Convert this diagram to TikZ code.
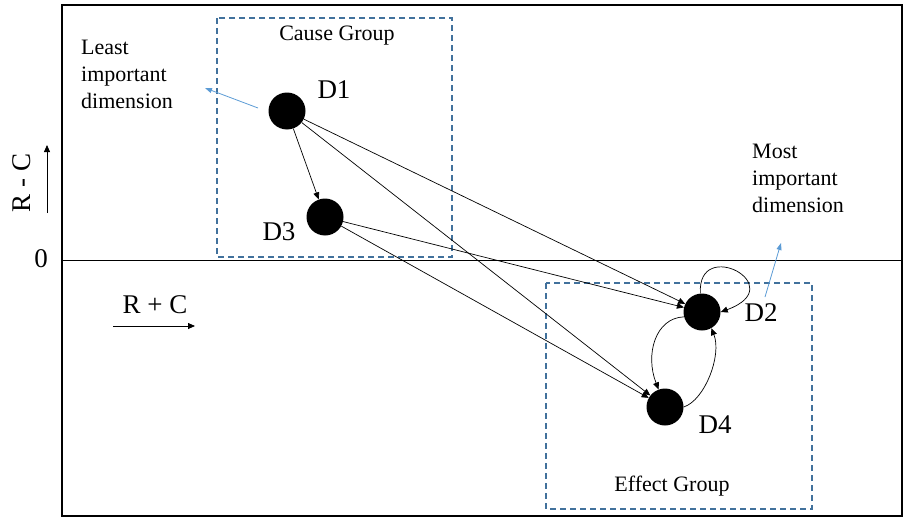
\documentclass[tikz,border=0pt]{standalone}
\usepackage{fontspec}
\setmainfont{Liberation Serif}
\usetikzlibrary{arrows.meta}
\definecolor{grpblue}{HTML}{41719C}
\definecolor{lightblue}{HTML}{5B9BD5}
\begin{document}
\begin{tikzpicture}[x=1pt,y=-1pt,
  dim/.style={circle,fill=black,minimum size=37pt,inner sep=0pt},
  lbl/.style={font=\fontsize{22}{27}\selectfont,inner sep=0pt},
  big/.style={font=\fontsize{27}{32}\selectfont,inner sep=0pt},
  grp/.style={draw=grpblue,line width=1.4pt,dash pattern=on 6pt off 4pt},
  link/.style={draw=black,line width=0.7pt,-{Triangle[length=7pt,width=6pt]}},
  note/.style={draw=lightblue,line width=0.8pt,-{Triangle[length=7pt,width=5pt]}},
  axis/.style={draw=black,line width=0.8pt,-{Triangle[length=7pt,width=6pt]}}]
\useasboundingbox (0,0) rectangle (907,519);
% frame and zero line
\draw[line width=1.6pt] (62,5) rectangle (902,516);
\coordinate (zl) at (62,260);
\coordinate (zr) at (902,260);
\draw[line width=0.8pt] (zl) -- (zr);
% group boxes
\draw[grp] (217,18) rectangle (452,257);
\draw[grp] (546,283) rectangle (812,509);
\node[lbl] (cg) at (337,36) {Cause Group};
\node[lbl] (eg) at (672,486) {Effect Group};
% axis labels
\node[big,rotate=90] (rc) at (22,183) {R - C};
\coordinate (rca) at (47,213);
\coordinate (rcb) at (47,145);
\draw[axis] (rca) -- (rcb);
\node[big] (zero) at (41,259) {0};
\node[big] (rpc) at (155,305) {R + C};
\coordinate (rpa) at (113,326);
\coordinate (rpb) at (195,326);
\draw[axis] (rpa) -- (rpb);
% dimension nodes
\node[dim] (D1) at (287,111) {};
\node[dim] (D3) at (325,217) {};
\node[dim] (D2) at (702,312) {};
\node[dim] (D4) at (665,407) {};
\node[big] (l1) at (334,90) {D1};
\node[big] (l3) at (279,232) {D3};
\node[big] (l2) at (761,313) {D2};
\node[big] (l4) at (715,425) {D4};
% notes
\node[lbl,align=left,anchor=north west] (least) at (81,40) {Least\\important\\dimension};
\node[lbl,align=left,anchor=north west] (most) at (752,144) {Most\\important\\dimension};
\coordinate (na) at (258,108);
\coordinate (nb) at (205,88);
\draw[note] (na) -- (nb);
\coordinate (ma) at (765,297);
\coordinate (mb) at (781,243);
\draw[note] (ma) -- (mb);
% links
\draw[link] (D1) -- (D3);
\draw[link] (D1) -- (D2);
\draw[link] (D1) -- (D4);
\draw[link] (D3) -- (D2);
\draw[link] (D3) -- (D4);
\draw[link] (D2.195) .. controls (655,318) and (645,355) .. (D4.110);
\draw[link] (D4.0) .. controls (705,400) and (722,355) .. (D2.300);
\draw[link] (D2.95) .. controls (697,236) and (792,286) .. (D2.0);
\end{tikzpicture}
\end{document}
